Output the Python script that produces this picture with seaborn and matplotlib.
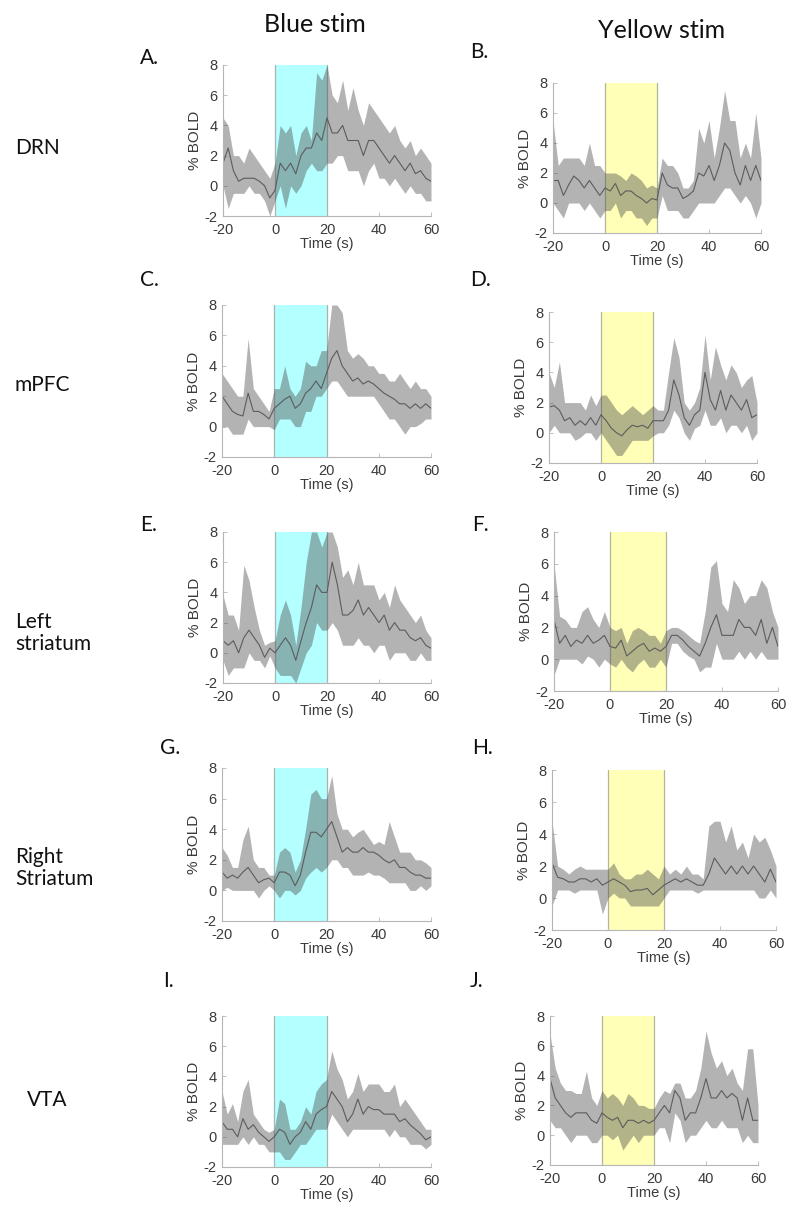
import numpy as np
import pandas as pd
import matplotlib
matplotlib.use("Agg")
import matplotlib.pyplot as plt
import seaborn as sns

# ---------------- data ----------------
time_s = list(range(-20, 61, 2))

# A. DRN, blue stim
drn_blue_mean = [1.5, 2.5, 1.0, 0.3, 0.5, 0.5, 0.5, 0.3, 0.0, -0.8, -0.3, 1.5, 1.0, 1.5, 0.8, 2.0, 2.5, 2.5, 3.5, 3.0, 4.5,
                 3.5, 3.5, 4.0, 3.0, 3.0, 3.0, 2.0, 3.0, 3.0, 2.5, 2.0, 1.5, 2.0, 1.5, 1.0, 1.5, 0.8, 1.0, 0.5, 0.3]
drn_blue_lo = [0.0, -1.5, -0.5, -0.5, -0.5, 0.0, -0.5, -0.5, -1.0, -2.0, -1.0, 0.0, -1.5, 0.0, -0.5, 0.0, 1.0, 1.5, 1.0, 1.0, 1.5,
               1.5, 2.0, 2.0, 1.0, 1.0, 1.0, 0.0, 1.0, 1.5, 0.5, 0.5, 0.0, 0.5, 0.0, -0.5, 0.0, -0.5, -0.5, -1.0, -1.0]
drn_blue_hi = [4.5, 4.0, 2.0, 2.0, 1.5, 2.5, 2.0, 1.5, 1.0, 0.5, 1.5, 4.0, 3.5, 4.0, 2.0, 3.5, 4.0, 3.0, 7.5, 7.0, 8.0,
               6.0, 5.5, 7.0, 5.0, 6.5, 5.0, 4.0, 5.5, 5.0, 4.5, 4.0, 3.5, 4.0, 3.0, 2.5, 3.0, 2.0, 2.5, 2.0, 1.5]

# B. DRN, yellow stim
drn_yel_mean = [1.5, 1.5, 0.5, 1.2, 1.8, 1.5, 1.0, 1.5, 1.0, 0.5, 1.0, 0.8, 1.3, 0.5, 0.8, 0.8, 0.5, 0.3, 0.0, 0.3, 0.2,
                2.0, 1.2, 1.0, 1.0, 0.3, 0.5, 0.8, 2.0, 1.8, 2.5, 1.5, 2.5, 4.0, 3.5, 2.0, 1.2, 2.5, 1.5, 2.5, 1.5]
drn_yel_lo = [0.0, -0.5, -1.0, 0.0, 0.0, 0.0, -0.5, 0.0, -0.5, -1.0, -0.5, -0.5, 0.0, -1.0, -0.5, -0.5, -1.0, -1.0, -1.5, -1.0, -1.0,
              0.5, -0.5, -0.5, -0.5, -1.0, -1.0, -0.5, 0.0, 0.0, 0.0, 0.0, 0.5, 1.0, 1.0, 0.5, 0.0, 0.5, 0.0, -1.0, 0.0]
drn_yel_hi = [5.5, 2.5, 3.0, 3.0, 3.0, 3.0, 2.5, 4.0, 2.5, 2.5, 2.0, 2.0, 2.0, 1.8, 1.5, 2.0, 1.8, 1.5, 1.0, 1.2, 1.0,
              3.0, 2.5, 2.5, 2.0, 1.0, 1.0, 1.5, 5.0, 4.0, 5.5, 3.0, 5.0, 7.5, 5.5, 5.5, 3.0, 4.0, 3.0, 6.0, 3.0]

# C. mPFC, blue stim
mpfc_blue_mean = [2.0, 1.5, 1.0, 0.8, 0.7, 2.2, 1.0, 1.0, 0.8, 0.5, 1.2, 1.5, 1.8, 2.0, 1.2, 1.5, 2.2, 2.5, 3.0, 2.5, 3.5,
                  4.5, 5.0, 4.0, 3.5, 3.0, 3.2, 2.8, 3.0, 2.8, 2.5, 2.2, 2.0, 1.8, 1.5, 1.5, 1.2, 1.5, 1.2, 1.5, 1.2]
mpfc_blue_lo = [0.0, 0.0, -0.5, -0.5, -0.5, 0.5, 0.0, 0.0, 0.0, 0.0, -0.2, 0.5, 0.5, 0.5, 0.0, 0.0, 1.0, 1.0, 2.0, 2.0, 2.5,
                3.0, 3.0, 2.5, 2.0, 2.0, 2.0, 2.0, 2.0, 2.0, 1.5, 1.0, 0.5, 0.5, 0.0, -0.5, 0.0, 0.0, 0.2, 0.5, 0.5]
mpfc_blue_hi = [3.5, 3.0, 2.5, 2.0, 2.0, 5.8, 2.5, 2.0, 1.5, 1.0, 2.5, 2.5, 4.0, 2.5, 2.0, 2.5, 4.3, 4.0, 4.0, 5.0, 5.0,
                8.0, 8.0, 7.5, 5.0, 4.5, 4.8, 4.5, 4.0, 4.0, 3.5, 3.5, 3.0, 3.0, 3.5, 3.0, 2.5, 3.0, 2.5, 2.5, 2.0]

# D. mPFC, yellow stim
mpfc_yel_mean = [1.7, 1.8, 1.5, 0.8, 1.0, 0.5, 0.8, 0.5, 1.0, 0.5, 1.2, 0.8, 0.3, 0.0, -0.2, 0.2, 0.5, 0.4, 0.5, 0.3, 0.8,
                 0.8, 0.8, 1.5, 3.5, 2.5, 1.0, 0.5, 1.2, 1.5, 4.0, 2.2, 1.5, 2.8, 1.5, 2.5, 2.0, 1.5, 2.2, 1.0, 1.2]
mpfc_yel_lo = [0.0, 0.5, 0.0, 0.0, 0.0, -0.5, -0.3, 0.0, 0.0, -0.5, 0.0, -0.5, -1.0, -1.5, -1.5, -1.0, -0.5, -0.5, -0.5, -0.5, -0.2,
               0.0, 0.0, 0.5, 1.5, 1.0, 0.0, -0.5, 0.3, 0.5, 1.5, 0.5, 0.5, 1.0, 0.0, 0.5, 0.5, 0.0, 0.5, -0.5, 0.0]
mpfc_yel_hi = [4.0, 3.0, 4.7, 2.0, 2.0, 2.0, 2.0, 1.5, 2.5, 1.8, 2.5, 2.5, 2.0, 1.5, 1.2, 1.5, 1.8, 1.5, 1.2, 1.5, 1.8,
               1.5, 1.5, 4.0, 6.3, 5.0, 2.0, 1.5, 2.0, 3.0, 6.5, 3.5, 5.7, 4.5, 3.5, 4.5, 4.0, 3.0, 3.5, 3.8, 2.0]

# E. Left striatum, blue stim
lstr_blue_mean = [0.8, 0.5, 0.8, 0.0, 1.0, 1.5, 1.0, 0.5, -0.3, 0.3, 0.0, 0.5, 1.0, 0.5, -0.5, 0.8, 2.0, 3.0, 4.5, 4.0, 4.0,
                  6.0, 4.5, 2.5, 2.5, 2.8, 3.5, 2.5, 3.0, 2.5, 2.0, 2.5, 1.5, 2.0, 1.5, 1.5, 1.0, 0.8, 1.0, 0.5, 0.3]
lstr_blue_lo = [-0.5, -1.5, -1.0, -1.0, -1.0, 0.0, -0.5, -0.5, -1.0, -0.2, -1.0, -1.5, -1.5, -1.5, -2.0, -1.0, 0.0, 0.5, 2.0, 1.5, 1.5,
                2.0, 1.5, 0.5, 0.5, 0.5, 1.0, 0.5, 0.5, 0.0, 0.5, 0.5, -0.5, 0.0, 0.0, 0.0, -0.5, -0.5, 0.0, -0.5, -0.5]
lstr_blue_hi = [3.8, 2.5, 2.5, 1.5, 5.8, 4.8, 3.0, 1.5, 0.5, 0.7, 0.8, 2.5, 3.5, 2.5, 0.5, 3.0, 6.0, 8.0, 8.0, 7.0, 8.0,
                8.0, 7.0, 5.0, 5.5, 4.5, 6.0, 4.5, 4.5, 4.5, 3.5, 4.0, 3.0, 4.5, 3.5, 3.0, 2.5, 2.0, 2.5, 1.5, 1.0]

# F. Left striatum, yellow stim
lstr_yel_mean = [2.5, 1.0, 1.5, 0.8, 1.2, 1.0, 1.5, 1.0, 1.2, 1.5, 0.8, 0.7, 1.2, 0.2, 0.5, 0.8, 1.0, 0.5, 0.7, 0.5, 0.8,
                 1.5, 1.5, 1.2, 0.8, 0.5, 0.2, 1.0, 2.0, 2.8, 1.5, 1.5, 1.5, 2.5, 2.0, 2.0, 1.5, 2.5, 1.0, 2.0, 0.8]
lstr_yel_lo = [-1.0, 0.0, 0.0, 0.0, 0.0, -0.3, 0.2, 0.0, -0.5, 0.0, -0.3, -0.5, 0.0, -0.5, -0.8, -0.3, 0.0, -0.5, -0.5, 0.0, -0.5,
               1.0, 1.0, 0.5, 0.2, 0.0, -0.8, -0.5, -0.5, 1.0, 0.0, 0.0, 0.0, 0.5, 0.0, 0.5, 0.0, 0.5, 0.0, 0.0, 0.0]
lstr_yel_hi = [6.0, 2.7, 2.5, 2.0, 2.0, 3.0, 3.3, 2.5, 2.0, 3.0, 2.0, 1.8, 2.0, 1.0, 1.8, 2.0, 1.8, 1.5, 1.5, 1.0, 1.8,
               2.0, 2.0, 1.8, 1.5, 1.2, 1.0, 3.0, 5.8, 6.2, 3.5, 3.0, 5.0, 4.5, 3.5, 4.0, 4.0, 5.0, 4.5, 3.0, 2.0]

# G. Right striatum, blue stim
rstr_blue_mean = [1.2, 0.8, 1.0, 0.8, 1.2, 1.5, 1.0, 0.5, 0.7, 0.8, 0.5, 1.2, 1.2, 1.0, 0.3, 1.0, 2.5, 3.8, 3.8, 3.5, 4.0,
                  4.5, 3.5, 2.5, 2.8, 2.5, 2.5, 2.8, 2.5, 2.5, 2.3, 2.0, 1.8, 2.0, 1.5, 1.5, 1.2, 1.0, 1.0, 0.8, 0.8]
rstr_blue_lo = [0.0, 0.2, 0.0, 0.0, 0.0, 0.0, 0.0, -0.5, 0.0, 0.3, 0.0, -0.5, 0.0, 0.0, -0.3, 0.0, 0.8, 1.2, 1.5, 1.2, 1.5,
                2.0, 2.0, 1.5, 1.5, 1.0, 1.0, 1.0, 1.2, 1.0, 1.0, 0.8, 0.5, 0.5, 0.5, 0.5, 0.0, 0.0, 0.3, 0.0, 0.3]
rstr_blue_hi = [2.8, 2.3, 1.5, 1.5, 3.3, 4.2, 2.0, 1.5, 1.5, 1.0, 1.0, 2.5, 2.8, 2.5, 1.2, 2.0, 4.0, 6.3, 6.6, 6.0, 6.0,
                7.5, 5.0, 4.0, 4.0, 3.5, 3.8, 4.0, 3.5, 3.0, 3.2, 3.0, 4.5, 3.5, 2.5, 2.5, 2.5, 2.0, 2.0, 1.8, 1.5]

# H. Right striatum, yellow stim
rstr_yel_mean = [2.2, 1.3, 1.2, 1.0, 1.0, 1.2, 1.2, 1.0, 1.2, 0.8, 1.0, 1.2, 1.0, 0.8, 0.4, 0.5, 0.5, 0.6, 0.2, 0.5, 0.8,
                 1.0, 1.2, 1.0, 1.2, 1.0, 0.8, 0.8, 1.5, 2.5, 2.0, 1.5, 2.0, 1.5, 2.0, 1.5, 2.0, 1.5, 1.0, 1.8, 1.0]
rstr_yel_lo = [-0.5, 0.5, 0.5, 0.5, 0.3, 0.5, 0.5, 0.5, 0.5, -1.0, 0.0, 0.3, 0.0, 0.0, -0.5, -0.5, -0.5, -0.5, -0.5, -0.5, 0.0,
               0.5, 0.5, 0.5, 0.5, 0.5, 0.3, 0.5, 0.5, 0.5, 0.5, 0.5, 0.5, 0.5, 0.5, 0.5, 0.5, 0.0, 0.0, 0.5, 0.0]
rstr_yel_hi = [4.8, 2.0, 1.8, 1.5, 1.8, 2.0, 1.8, 1.8, 1.8, 1.8, 1.8, 2.2, 1.5, 1.2, 1.2, 1.5, 1.5, 1.8, 1.5, 1.2, 2.0,
               1.5, 1.8, 1.5, 2.0, 1.5, 1.5, 1.2, 4.5, 4.8, 4.8, 3.5, 4.5, 3.0, 3.5, 2.5, 4.0, 3.5, 3.8, 3.0, 2.0]

# I. VTA, blue stim
vta_blue_mean = [1.0, 0.5, 0.5, 0.0, 1.2, 0.5, 0.8, 0.3, 0.0, -0.3, 0.0, 0.5, 0.3, -0.5, 0.0, 0.3, 1.0, 0.5, 1.5, 1.8, 2.0,
                 3.0, 2.5, 2.0, 1.0, 1.5, 2.5, 1.5, 2.0, 1.8, 1.8, 1.5, 1.5, 1.5, 1.0, 1.2, 0.8, 0.5, 0.2, -0.2, 0.0]
vta_blue_lo = [-0.5, -0.5, -0.5, -0.5, 0.0, -0.5, 0.0, -0.5, -0.5, -1.0, -1.0, -1.0, -1.5, -1.5, -1.0, -0.5, -0.5, 0.0, 0.5, 0.5, 0.5,
               1.5, 1.0, 0.5, 0.0, 0.5, 0.5, 0.5, 0.5, 0.5, 0.5, 0.5, 0.0, 0.5, 0.0, 0.0, -0.5, -0.5, -0.5, -0.8, -0.5]
vta_blue_hi = [3.0, 1.5, 2.2, 1.0, 3.0, 3.8, 1.5, 1.0, 0.5, 0.3, 0.5, 2.5, 2.2, 0.5, 0.5, 1.0, 2.0, 1.5, 3.0, 3.5, 3.8,
               5.7, 4.5, 3.8, 2.5, 3.0, 4.2, 3.0, 3.5, 3.5, 3.5, 3.0, 3.0, 3.5, 2.0, 2.5, 2.0, 1.5, 1.0, 0.5, 0.5]

# J. VTA, yellow stim
vta_yel_mean = [3.8, 2.5, 2.0, 1.5, 1.2, 1.5, 1.5, 1.5, 1.0, 0.8, 1.5, 1.2, 1.0, 1.2, 0.5, 1.0, 1.0, 0.8, 1.0, 0.8, 1.0,
                1.5, 2.0, 1.5, 3.0, 2.5, 1.0, 1.5, 1.5, 2.5, 3.8, 2.5, 2.5, 3.0, 2.5, 2.8, 2.5, 1.0, 2.5, 1.0, 1.0]
vta_yel_lo = [1.0, 0.5, 0.5, 0.0, -0.5, 0.0, 0.0, 0.0, -0.5, -0.5, 0.0, 0.0, -0.3, 0.0, -1.0, -0.5, 0.0, -0.5, 0.0, 0.0, 0.0,
              0.5, 0.5, -0.5, 1.5, 1.0, -0.5, 0.0, 0.0, 0.5, 1.0, 0.5, 0.5, 1.0, 0.5, 0.5, 0.5, -0.5, 0.0, -0.5, -0.5]
vta_yel_hi = [6.8, 4.5, 3.5, 3.0, 3.0, 2.8, 2.8, 4.3, 2.5, 2.0, 3.0, 2.5, 2.8, 2.5, 2.0, 2.8, 2.5, 2.0, 2.0, 1.8, 1.8,
              2.5, 3.0, 2.8, 3.5, 3.5, 2.5, 2.5, 3.0, 4.5, 7.0, 5.5, 4.5, 5.0, 4.0, 4.5, 3.5, 3.0, 5.8, 5.8, 2.0]

regions = ["DRN", "mPFC", "Left\nstriatum", "Right\nStriatum", "VTA"]
column_titles = ["Blue stim", "Yellow stim"]
panel_letters = ["A.", "B.", "C.", "D.", "E.", "F.", "G.", "H.", "I.", "J."]
x_ticks = [-20, 0, 20, 40, 60]
y_ticks = [-2, 0, 2, 4, 6, 8]

series = [
    (drn_blue_mean, drn_blue_lo, drn_blue_hi), (drn_yel_mean, drn_yel_lo, drn_yel_hi),
    (mpfc_blue_mean, mpfc_blue_lo, mpfc_blue_hi), (mpfc_yel_mean, mpfc_yel_lo, mpfc_yel_hi),
    (lstr_blue_mean, lstr_blue_lo, lstr_blue_hi), (lstr_yel_mean, lstr_yel_lo, lstr_yel_hi),
    (rstr_blue_mean, rstr_blue_lo, rstr_blue_hi), (rstr_yel_mean, rstr_yel_lo, rstr_yel_hi),
    (vta_blue_mean, vta_blue_lo, vta_blue_hi), (vta_yel_mean, vta_yel_lo, vta_yel_hi),
]

# ---------------- layout (pixel boxes: left, right, top, bottom) ----------------
W, H = 787, 1207
boxes = [
    (223, 431, 65, 216), (553, 761, 83, 233),
    (222, 431, 305, 457), (549, 757, 312, 463),
    (223, 431, 532, 683), (554, 778, 532, 691),
    (222, 431, 768, 921), (552, 776, 770, 930),
    (222, 431, 1016, 1167), (550, 758, 1016, 1165),
]
letter_pos = [(140, 58), (470, 52), (140, 280), (470, 280), (140, 525), (472, 525),
              (160, 748), (472, 748), (163, 981), (470, 981)]
region_pos = [(15, 148), (15, 385), (15, 633), (15, 868), (27, 1100)]

sns.set_style("ticks")
plt.rcParams["font.family"] = ["Liberation Sans", "DejaVu Sans"]
plt.rcParams["axes.unicode_minus"] = False

fig = plt.figure(figsize=(W / 100, H / 100), dpi=100)

stim_fill = ["#b4ffff", "#ffffb8"]
stim_edge = ["#a6b4b4", "#b4b49c"]
tick_col = "#3a3a3a"
spine_col = "#b5b5b5"

for i, (box, (m, lo, hi)) in enumerate(zip(boxes, series)):
    l, r, t, b = box
    ax = fig.add_axes([l / W, 1 - b / H, (r - l) / W, (b - t) / H])
    col = i % 2
    ax.axvspan(0, 20, facecolor=stim_fill[col], edgecolor="none", lw=0, zorder=0)
    for xe in (0, 20):
        ax.axvline(xe, color=stim_edge[col], lw=0.9, zorder=0.5)
    ax.fill_between(time_s, lo, hi, color="#4a4a4a", alpha=0.42, lw=0, zorder=1)
    df = pd.DataFrame({"Time (s)": time_s, "% BOLD": m})
    sns.lineplot(data=df, x="Time (s)", y="% BOLD", ax=ax, color="#5c5c5c", lw=0.8, zorder=2)
    ax.set_xlim(-20, 60)
    ax.set_ylim(-2, 8)
    ax.set_xticks(x_ticks)
    ax.set_yticks(y_ticks)
    ax.set_facecolor("none")
    for s in ["top", "right"]:
        ax.spines[s].set_visible(False)
    for s in ["left", "bottom"]:
        ax.spines[s].set_color(spine_col)
        ax.spines[s].set_linewidth(0.8)
    ax.tick_params(direction="in", length=3, width=0.6, color=spine_col,
                   labelsize=10.5, labelcolor=tick_col)
    ax.tick_params(axis="x", pad=5)
    ax.tick_params(axis="y", pad=4)
    ax.set_xlabel("Time (s)", fontsize=10.5, color=tick_col, labelpad=0)
    ax.set_ylabel("% BOLD", fontsize=11, color=tick_col, labelpad=2)

hdr_font = ["Lato", "DejaVu Sans"]
fig.text(315 / W, 1 - 25 / H, column_titles[0], ha="center", va="center", fontsize=18,
         family=hdr_font, color="#111111")
fig.text(662 / W, 1 - 30 / H, column_titles[1], ha="center", va="center", fontsize=18,
         family=hdr_font, color="#111111")
for (x, y), s in zip(letter_pos, panel_letters):
    fig.text(x / W, 1 - y / H, s, ha="left", va="center", fontsize=15, family=hdr_font, color="#111111")
for (x, y), s in zip(region_pos, regions):
    fig.text(x / W, 1 - y / H, s, ha="left", va="center", fontsize=15, family=hdr_font,
             color="#111111", linespacing=1.1)

fig.savefig("out.png", dpi=100)
